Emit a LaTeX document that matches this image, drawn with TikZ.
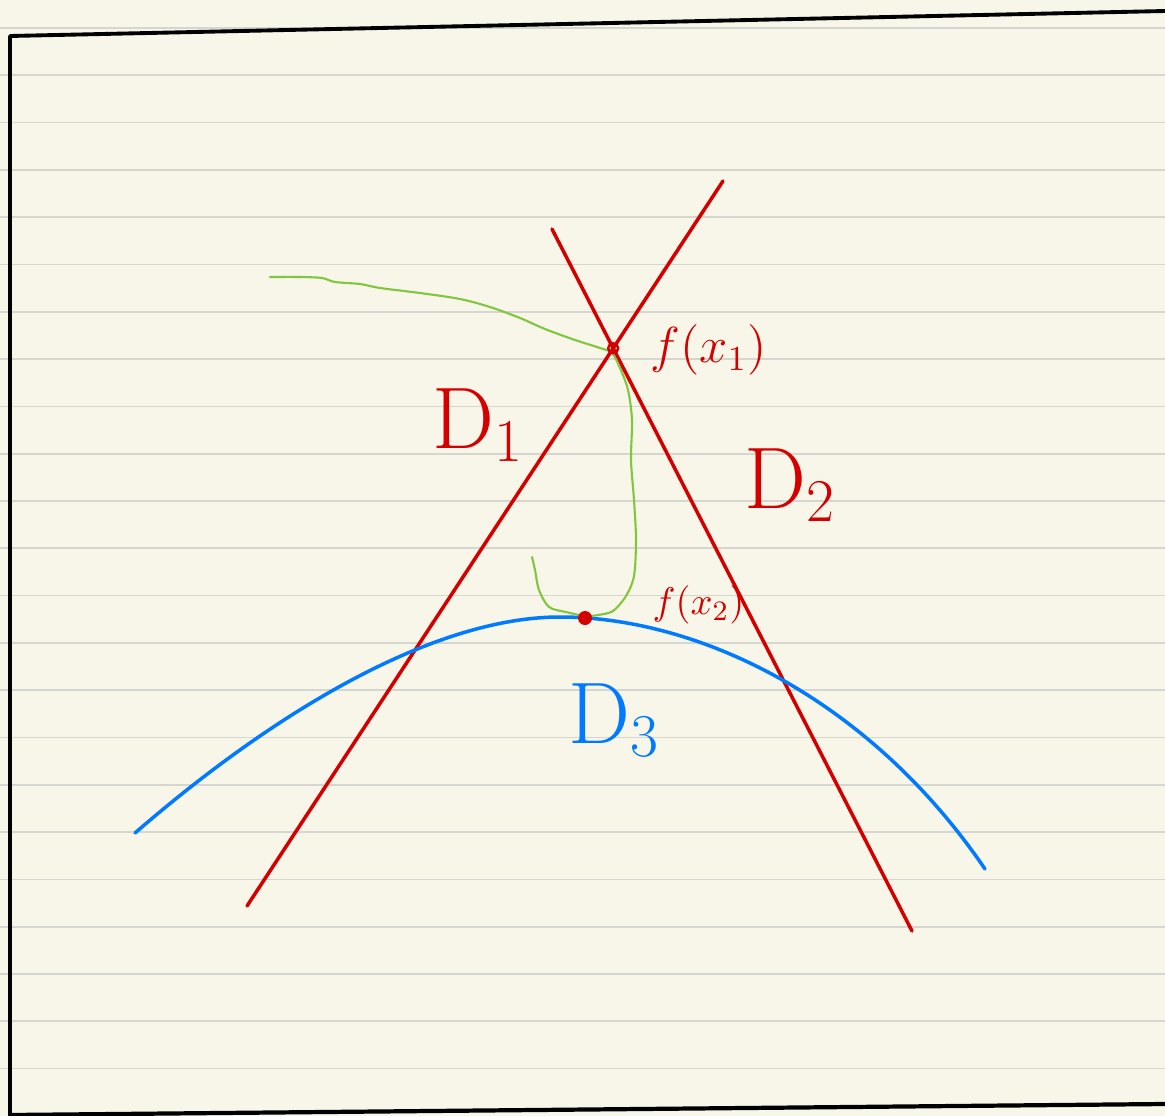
\documentclass[tikz,border=0pt]{standalone}
\usepackage{amsmath}
\usepackage{xcolor}
\usepackage{tikz}
\usetikzlibrary{calc}
\definecolor{paper}{RGB}{248,246,232}
\definecolor{ruling}{RGB}{214,214,208}
\definecolor{redpen}{RGB}{212,0,0}
\definecolor{bluepen}{RGB}{0,122,255}
\definecolor{greenpen}{RGB}{128,198,62}

\begin{document}
\begin{tikzpicture}[x=0.1mm, y=-0.1mm, line cap=round, line join=round,
    redline/.style={redpen, line width=1pt},
    bigname/.style={inner sep=0pt, font=\fontsize{24}{26}\selectfont},
    smallname/.style={inner sep=0pt, font=\fontsize{14}{16}\selectfont}]
    % --- Paper and rulings ---
    \fill[paper] (0,0) rectangle (1165,1116);
    \useasboundingbox (0,0) rectangle (1165,1116);
    \foreach \i in {0,...,22}
      \draw[ruling, line width=0.5pt] (0,{28+47.3*\i}) -- (1165,{28+47.3*\i});
    % --- Page border ---
    \draw[black, line width=1.1pt] (1165,11) -- (10,36) -- (10,1116);
    \draw[black, line width=1.2pt] (10,1115) -- (1165,1104);
    % --- Lines D1 and D2 ---
    \coordinate (d1a) at (247,906);
    \coordinate (d1b) at (723,181);
    \coordinate (d2a) at (552,229);
    \coordinate (d2b) at (912,931);
    \draw[redline] (d1a) -- (d1b);
    \draw[redline] (d2a) -- (d2b);
    \coordinate (fx1) at (intersection of d1a--d1b and d2a--d2b);
    % --- Curve D3 ---
    \coordinate (fx2) at (585,618);
    \draw[bluepen, line width=1pt] (135,833) .. controls (285,703) and (440,617) .. (560,617)
      .. controls (700,617) and (870,700) .. (985,869);
    % --- Green path ---
    \draw[greenpen, line width=0.6pt] plot[smooth, tension=0.5] coordinates
      {(270,277) (300,277) (322,278) (335,282) (360,284) (380,288) (420,293)
       (460,299) (490,307) (520,318) (545,329) (575,340) (600,348) (612,353)
       (620,368) (628,390) (632,420) (631,460) (634,500) (636,540) (634,576)
       (626,596) (613,611) (598,615) (585,616) (566,612) (549,607) (539,590)
       (535,570) (532,557)};
    % --- Points ---
    \draw[redpen, line width=0.7pt] (fx1) circle (5);
    \fill[redpen] (fx2) circle (7);
    % --- Labels ---
    \node[smallname, redpen, anchor=west] (lblfx1) at (650,350) {$f(x_1)$};
    \node[smallname, redpen, anchor=west, font=\fontsize{11}{13}\selectfont] (lblfx2) at (652,605) {$f(x_2)$};
    \node[bigname, redpen] (lbldone) at (478,425) {$\mathrm{D}_1$};
    \node[bigname, redpen] (lbldtwo) at (790,485) {$\mathrm{D}_2$};
    \node[bigname, bluepen, font=\fontsize{27}{29}\selectfont] (lbldthree) at (614,720) {$\mathrm{D}_3$};
\end{tikzpicture}
\end{document}
